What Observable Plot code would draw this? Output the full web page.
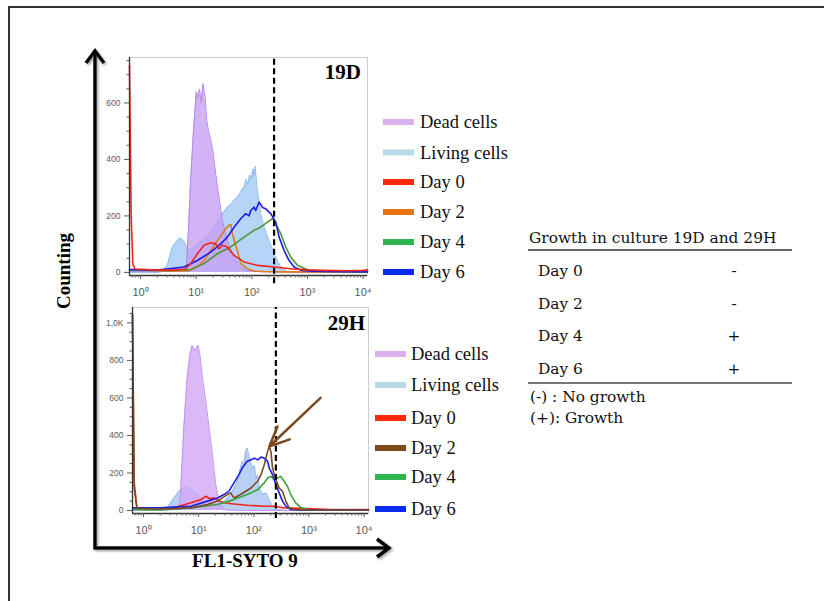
<!DOCTYPE html>
<html><head><meta charset="utf-8">
<script src="https://cdn.jsdelivr.net/npm/d3@7"></script>
<script src="https://cdn.jsdelivr.net/npm/@observablehq/plot@0.6"></script>
<style>
html,body{margin:0;padding:0;background:#fff;}
#root{position:relative;width:824px;height:601px;overflow:hidden;background:#fff;}
#root > svg{position:absolute;}
</style></head><body><div id="root"></div>
<script>
// ---------- DATA (log10 of FL1-SYTO 9 intensity, counts) ----------
const decades = [0, 1, 2, 3, 4];
const gateLog = 2.4; // dashed threshold at ~10^2.4

// Panel 19D
const dead19L  = [-0.2, 0.3, 0.6, 0.78, 0.82, 0.86, 0.90, 0.95, 1.00, 1.03, 1.06, 1.09, 1.12, 1.16, 1.19, 1.22, 1.26, 1.30, 1.35, 1.41, 1.47, 1.56, 1.68, 1.80, 1.92, 2.2, 4.08];
const dead19N  = [3, 3, 5, 6, 8, 150, 330, 500, 640, 620, 650, 600, 668, 620, 540, 500, 470, 430, 349, 267, 184, 113, 54, 19, 5, 2, 0];
const living19L = [-0.2, 0.3, 0.39, 0.48, 0.57, 0.66, 0.72, 0.78, 0.84, 0.90, 1.02, 1.20, 1.38, 1.50, 1.56, 1.62, 1.68, 1.74, 1.80, 1.86, 1.90, 1.93, 1.96, 1.99, 2.02, 2.04, 2.06, 2.08, 2.10, 2.16, 2.22, 2.31, 2.40, 2.52, 2.64, 2.8, 4.08];
const living19N = [0, 0, 3, 25, 90, 113, 122, 110, 85, 78, 100, 130, 180, 215, 231, 240, 255, 267, 285, 302, 330, 310, 345, 330, 367, 340, 375, 330, 290, 208, 160, 113, 66, 19, 3, 0, 0];
const day0_19L = [-0.2, -0.17, -0.14, -0.1, 0.3, 0.6, 0.8, 0.9, 1.02, 1.14, 1.26, 1.35, 1.41, 1.47, 1.56, 1.68, 1.86, 2.1, 2.4, 2.7, 3.0, 3.3, 3.7, 4.0, 4.08];
const day0_19N = [733, 200, 30, 12, 8, 8, 12, 31, 66, 96, 105, 101, 84, 96, 90, 60, 37, 25, 19, 13, 9, 7, 6, 7, 9];
const day2_19L = [-0.2, 0.5, 0.85, 1.02, 1.14, 1.26, 1.38, 1.47, 1.53, 1.59, 1.62, 1.65, 1.71, 1.74, 1.80, 1.92, 2.04, 2.2, 2.5, 4.08];
const day2_19N = [10, 5, 5, 19, 42, 78, 113, 137, 155, 166, 170, 137, 95, 78, 31, 13, 5, 3, 2, 2];
const day4_19L = [-0.2, 0.5, 0.9, 1.14, 1.38, 1.62, 1.86, 2.04, 2.16, 2.28, 2.37, 2.40, 2.46, 2.52, 2.61, 2.70, 2.82, 3.0, 3.3, 4.08];
const day4_19N = [8, 6, 10, 31, 66, 90, 125, 149, 160, 178, 190, 185, 160, 137, 90, 54, 25, 9, 3, 2];
const day6_19L = [-0.2, 0.3, 0.78, 1.02, 1.26, 1.44, 1.56, 1.68, 1.80, 1.89, 1.95, 1.98, 2.04, 2.07, 2.13, 2.16, 2.19, 2.25, 2.34, 2.43, 2.49, 2.58, 2.67, 2.76, 2.88, 3.06, 3.3, 4.08];
const day6_19N = [10, 8, 19, 42, 72, 101, 125, 160, 190, 208, 200, 219, 231, 219, 249, 240, 230, 225, 208, 178, 125, 78, 42, 19, 8, 4, 3, 2];

// Panel 29H
const dead29L  = [-0.2, 0.4, 0.6, 0.64, 0.67, 0.73, 0.79, 0.84, 0.88, 0.92, 0.95, 0.99, 1.02, 1.07, 1.13, 1.19, 1.25, 1.31, 1.37, 1.43, 1.49, 1.8, 4.08];
const dead29N  = [5, 3, 5, 10, 85, 438, 704, 827, 880, 854, 863, 880, 836, 704, 580, 438, 297, 138, 50, 14, 3, 0, 0];
const living29L = [-0.2, 0.3, 0.43, 0.55, 0.67, 0.79, 0.92, 1.04, 1.22, 1.40, 1.58, 1.70, 1.79, 1.82, 1.85, 1.88, 1.92, 1.95, 1.98, 2.01, 2.04, 2.07, 2.10, 2.16, 2.22, 2.28, 2.34, 2.43, 2.6, 4.08];
const living29N = [0, 0, 14, 67, 111, 129, 103, 67, 41, 32, 85, 156, 262, 240, 315, 332, 280, 250, 226, 240, 173, 190, 120, 85, 94, 58, 23, 5, 0, 0];
const day0_29L = [-0.2, -0.17, -0.12, 0.3, 0.55, 0.86, 1.04, 1.13, 1.19, 1.28, 1.37, 1.46, 1.64, 1.88, 2.18, 2.36, 2.55, 2.97, 3.4, 4.08];
const day0_29N = [1040, 150, 15, 10, 14, 41, 58, 76, 64, 67, 50, 41, 35, 28, 23, 23, 14, 11, 5, 5];
const day2_29L = [-0.2, -0.17, -0.12, 0.3, 0.86, 1.16, 1.34, 1.52, 1.58, 1.64, 1.76, 1.95, 2.07, 2.13, 2.19, 2.25, 2.28, 2.31, 2.34, 2.40, 2.46, 2.52, 2.58, 2.64, 2.74, 3.0, 4.08];
const day2_29N = [1050, 120, 12, 8, 14, 32, 50, 85, 94, 67, 85, 120, 156, 191, 244, 315, 341, 315, 226, 164, 120, 103, 50, 14, 5, 3, 3];
const day4_29L = [-0.2, 0.3, 0.86, 1.34, 1.64, 1.88, 2.07, 2.19, 2.25, 2.31, 2.37, 2.43, 2.49, 2.55, 2.61, 2.67, 2.76, 2.86, 2.97, 3.1, 3.4, 4.08];
const day4_29N = [5, 3, 14, 32, 58, 85, 111, 147, 173, 182, 165, 173, 182, 156, 129, 85, 41, 14, 5, 3, 2, 2];
const day6_29L = [-0.2, 0.3, 0.55, 0.86, 1.16, 1.34, 1.46, 1.55, 1.64, 1.73, 1.79, 1.88, 1.95, 2.01, 2.07, 2.13, 2.19, 2.25, 2.28, 2.34, 2.40, 2.46, 2.52, 2.58, 2.67, 2.8, 4.08];
const day6_29N = [14, 14, 18, 23, 50, 67, 85, 103, 147, 191, 226, 262, 271, 279, 270, 285, 279, 262, 226, 191, 138, 94, 50, 23, 5, 3, 2];

// arrow annotation (tail point; head points at the Day 2 peak)
const arrowTailLog = [3.21];
const arrowTailCount = [600];

// legends
const legendLabels = ["Dead cells", "Living cells", "Day 0", "Day 2", "Day 4", "Day 6"];
const legendColors19 = ["#dcb0ee", "#b6dbe6", "#ff2a0d", "#e8730e", "#2fb350", "#0a2bf2"];
const legendColors29 = ["#dcb0ee", "#b6dbe6", "#ff2a0d", "#7a4a1c", "#2fb350", "#0a2bf2"];

// table
const tableTitle = "Growth in culture 19D and 29H";
const tableDays = ["Day 0", "Day 2", "Day 4", "Day 6"];
const tableGrowth = ["-", "-", "+", "+"];
const tableNotes = ["(-) : No growth", "(+): Growth"];

const yTicks19 = [0, 200, 400, 600];
const yTicks29 = [0, 200, 400, 600, 800, 1000];

// ---------- DRAW ----------
const root = document.getElementById("root");
const xMinL = -0.2, xMaxL = 4.08;
const rows = (L, N) => L.map((l, i) => ({fl: 10 ** l, count: N[i]}));
const sup = ["\u2070", "\u00b9", "\u00b2", "\u00b3", "\u2074"];
const minorX = [];
for (let k = -1; k <= 4; k++) for (let m = 2; m <= 9; m++) {
  const v = m * 10 ** k;
  if (v >= 10 ** xMinL && v <= 10 ** xMaxL) minorX.push(v);
}

function panel(cfg) {
  const minorY = d3.range(0, cfg.yMax, 50).filter(v => !cfg.yTicks.includes(v));
  const marks = [
    Plot.frame({stroke: "#cdcdcd", strokeWidth: 1}),
    Plot.areaY(rows(cfg.living[0], cfg.living[1]), {x: "fl", y: "count", fill: cfg.livingFill, fillOpacity: 0.85}),
    Plot.lineY(rows(cfg.living[0], cfg.living[1]), {x: "fl", y: "count", stroke: cfg.livingStroke, strokeWidth: 1}),
    Plot.areaY(rows(cfg.dead[0], cfg.dead[1]), {x: "fl", y: "count", fill: cfg.deadFill, fillOpacity: 0.8}),
    Plot.lineY(rows(cfg.dead[0], cfg.dead[1]), {x: "fl", y: "count", stroke: cfg.deadStroke, strokeWidth: 1}),
    ...cfg.lines.map(s => Plot.lineY(rows(s.L, s.N), {x: "fl", y: "count", stroke: s.color, strokeWidth: 1.6})),
    Plot.ruleX([10 ** gateLog], {y1: cfg.gateY1, y2: cfg.yMax, stroke: "#000", strokeWidth: 2.2, strokeDasharray: "6,3.5"}),
    Plot.ruleY([cfg.yMin], {stroke: "#333", strokeWidth: 1.3}),
    Plot.ruleX([10 ** xMinL], {stroke: "#333", strokeWidth: 1.3}),
    Plot.axisY({ticks: cfg.yTicks, tickFormat: cfg.yFmt, tickSize: 5, tickPadding: 4, fontSize: 8.5, label: null}),
    Plot.axisY({ticks: minorY, tickSize: 2.5, tickFormat: () => "", label: null}),
    Plot.axisX({ticks: decades.map(d => 10 ** d), tickFormat: d => "10" + sup[Math.round(Math.log10(d))], tickSize: 4, tickPadding: 9, fontSize: 11, label: null}),
    Plot.axisX({ticks: minorX, tickSize: 2.5, tickFormat: () => "", label: null}),
    ...(cfg.extra || [])
  ];
  const svg = Plot.plot({
    width: cfg.width, height: cfg.height,
    marginLeft: cfg.mL, marginRight: cfg.mR, marginTop: cfg.mT, marginBottom: cfg.mB,
    x: {type: "log", domain: [10 ** xMinL, 10 ** xMaxL], label: null},
    y: {domain: [cfg.yMin, cfg.yMax], label: null},
    style: {background: "transparent", color: "#5a5a5a", fontFamily: "'Liberation Sans', Arial, sans-serif", overflow: "visible"},
    marks
  });
  svg.style.position = "absolute";
  svg.style.left = cfg.left + "px";
  svg.style.top = cfg.top + "px";
  svg.style.maxWidth = "none";
  root.appendChild(svg);
}

panel({
  left: 90, top: 40, width: 290, height: 265, mL: 39, mR: 13, mT: 17, mB: 30,
  yMin: -11, yMax: 761, gateY1: -40, yTicks: yTicks19, yFmt: d => String(d),
  living: [living19L, living19N], livingFill: "#a9cdf4", livingStroke: "#8fbdf0",
  dead: [dead19L, dead19N], deadFill: "#c6a0f4", deadStroke: "#b488ee",
  lines: [
    {L: day2_19L, N: day2_19N, color: "#e07a1e"},
    {L: day4_19L, N: day4_19N, color: "#4c9636"},
    {L: day6_19L, N: day6_19N, color: "#1c1ee8"},
    {L: day0_19L, N: day0_19N, color: "#f2231a"}
  ]
});

// arrow annotation pointing at the Day 2 peak of 29H
const d2peak = d3.greatest(rows(day2_29L, day2_29N).filter(d => d.fl > 10), d => d.count);
const arrowData = [{x1: 10 ** arrowTailLog[0], y1: arrowTailCount[0], x2: d2peak.fl, y2: d2peak.count}];

panel({
  left: 90, top: 290, width: 290, height: 253, mL: 42, mR: 12, mT: 17, mB: 30,
  yMin: -16, yMax: 1082, gateY1: -43, yTicks: yTicks29, yFmt: d => d === 1000 ? "1,0K" : String(d),
  living: [living29L, living29N], livingFill: "#aac8f2", livingStroke: "#93b8ee",
  dead: [dead29L, dead29N], deadFill: "#d2a8f6", deadStroke: "#c192f0",
  lines: [
    {L: day0_29L, N: day0_29N, color: "#f2231a"},
    {L: day4_29L, N: day4_29N, color: "#3aa23a"},
    {L: day6_29L, N: day6_29N, color: "#1c1ee8"},
    {L: day2_29L, N: day2_29N, color: "#7b4c22"}
  ],
  extra: [Plot.arrow(arrowData, {x1: "x1", y1: "y1", x2: "x2", y2: "y2", stroke: "#7b4a1f", strokeWidth: 2.5, headLength: 13, headAngle: 48})]
});

// ---------- overlay: frame, axes arrows, titles, legends, table ----------
const svg = d3.create("svg").attr("width", 824).attr("height", 601)
  .style("left", "0px").style("top", "0px").style("pointer-events", "none");
const defs = svg.append("defs");
const f = defs.append("filter").attr("id", "sh").attr("x", "-20%").attr("y", "-20%").attr("width", "140%").attr("height", "140%");
f.append("feDropShadow").attr("dx", 1.5).attr("dy", 1.5).attr("stdDeviation", 1.2).attr("flood-color", "#777").attr("flood-opacity", 0.7);

svg.append("path").attr("d", "M9,601 V7 H824").attr("fill", "none").attr("stroke", "#333").attr("stroke-width", 2);

const ax = svg.append("g").attr("filter", "url(#sh)").attr("fill", "none").attr("stroke", "#000").attr("stroke-width", 3.5);
ax.append("path").attr("d", "M95,52 V548 H387");
ax.append("path").attr("d", "M86,63 L95,51 L104,63").attr("stroke-linejoin", "miter");
ax.append("path").attr("d", "M377,539 L389,548 L377,557").attr("stroke-linejoin", "miter");

const serifB = "'Liberation Serif', 'Times New Roman', serif";
svg.append("text").attr("transform", "translate(70,271) rotate(-90)").attr("text-anchor", "middle")
  .attr("font-family", serifB).attr("font-weight", "bold").attr("font-size", 19).text("Counting");
svg.append("text").attr("x", 245).attr("y", 567).attr("text-anchor", "middle")
  .attr("font-family", serifB).attr("font-weight", "bold").attr("font-size", 19).text("FL1-SYTO 9");
svg.append("text").attr("x", 361).attr("y", 79).attr("text-anchor", "end")
  .attr("font-family", serifB).attr("font-weight", "bold").attr("font-size", 21).text("19D");
svg.append("text").attr("x", 365).attr("y", 330).attr("text-anchor", "end")
  .attr("font-family", serifB).attr("font-weight", "bold").attr("font-size", 21).text("29H");

function legend(x0, tx, ys, colors) {
  legendLabels.forEach((lab, i) => {
    svg.append("rect").attr("x", x0).attr("y", ys[i] - 3).attr("width", 31).attr("height", 6).attr("fill", colors[i]);
    svg.append("text").attr("x", tx).attr("y", ys[i] + 6).attr("font-family", serifB).attr("font-size", 18.5).attr("fill", "#111").text(lab);
  });
}
legend(383, 420, [122, 152.5, 182, 212, 242, 272], legendColors19);
legend(375, 411, [354, 385, 418, 448, 477, 509], legendColors29);

const tf = "'DejaVu Serif', serif";
const tfs = 15.4;
svg.append("text").attr("x", 529).attr("y", 243).attr("font-family", tf).attr("font-size", tfs).attr("fill", "#111").text(tableTitle);
svg.append("line").attr("x1", 528).attr("x2", 792).attr("y1", 250).attr("y2", 250).attr("stroke", "#333").attr("stroke-width", 1.3);
const rowY = [276, 309, 341, 374];
tableDays.forEach((d, i) => {
  svg.append("text").attr("x", 538).attr("y", rowY[i]).attr("font-family", tf).attr("font-size", tfs).attr("fill", "#111").text(d);
  svg.append("text").attr("x", 734).attr("y", rowY[i]).attr("text-anchor", "middle").attr("font-family", tf).attr("font-size", tfs).attr("fill", "#111").text(tableGrowth[i]);
});
svg.append("line").attr("x1", 528).attr("x2", 792).attr("y1", 383).attr("y2", 383).attr("stroke", "#777").attr("stroke-width", 2);
svg.append("text").attr("x", 530).attr("y", 402).attr("font-family", tf).attr("font-size", tfs).attr("fill", "#111").text(tableNotes[0]);
svg.append("text").attr("x", 530).attr("y", 423).attr("font-family", tf).attr("font-size", tfs).attr("fill", "#111").text(tableNotes[1]);

root.appendChild(svg.node());
</script></body></html>
